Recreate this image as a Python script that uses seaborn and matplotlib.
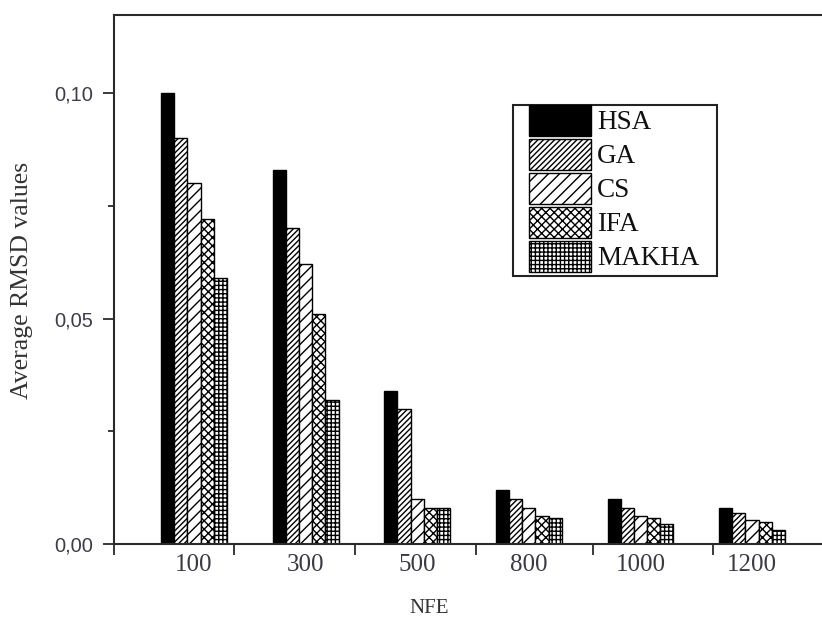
import numpy as np
import pandas as pd
import matplotlib
matplotlib.use("Agg")
import matplotlib.pyplot as plt
import matplotlib.patches as mpatches
from matplotlib.ticker import FixedLocator, FixedFormatter
import seaborn as sns

# Average RMSD per algorithm for each number of function evaluations
nfe = ["100", "300", "500", "800", "1000", "1200"]
algorithms = ["HSA", "GA", "CS", "IFA", "MAKHA"]
hsa = [0.100, 0.083, 0.034, 0.012, 0.010, 0.008]
ga = [0.090, 0.070, 0.030, 0.010, 0.008, 0.0069]
cs = [0.080, 0.062, 0.010, 0.008, 0.0062, 0.0053]
ifa = [0.072, 0.051, 0.008, 0.0062, 0.0058, 0.0048]
makha = [0.059, 0.032, 0.008, 0.0058, 0.0045, 0.0031]

y_ticks = [0.00, 0.05, 0.10]
y_ticklabels = ["0,00", "0,05", "0,10"]

series = {"HSA": hsa, "GA": ga, "CS": cs, "IFA": ifa, "MAKHA": makha}
df = pd.DataFrame(
    [(n, alg, v) for alg, vals in series.items() for n, v in zip(nfe, vals)],
    columns=["NFE", "Algorithm", "RMSD"],
)

sns.set_style("ticks")
plt.rcParams["hatch.linewidth"] = 1.0
plt.rcParams["font.family"] = ["Liberation Serif", "DejaVu Serif"]

faces = {"HSA": "black", "GA": "white", "CS": "white", "IFA": "white", "MAKHA": "white"}
hatches = {"HSA": "", "GA": "//////", "CS": "///", "IFA": "xxxx", "MAKHA": "++++"}

fig = plt.figure(figsize=(8.22, 6.18), dpi=100)
ax = fig.add_axes([0.1387, 0.1197, 0.8613, 0.856])

sns.barplot(
    data=df, x="NFE", y="RMSD", hue="Algorithm", order=nfe, hue_order=algorithms,
    palette=faces, width=0.59, edgecolor="black", linewidth=1.0,
    saturation=1, legend=False, ax=ax,
)

for alg, cont in zip(algorithms, ax.containers):
    for bar in cont:
        bar.set_hatch(hatches[alg])
        bar.set_edgecolor("black")

ax.set_xlim(-0.717, 5.627)
ax.set_ylim(0, 0.1173)

# spines
for side in ["left", "bottom", "top"]:
    ax.spines[side].set_visible(True)
    ax.spines[side].set_color("#2a2a2a")
    ax.spines[side].set_linewidth(1.5)
ax.spines["right"].set_visible(False)

# y ticks
ax.yaxis.set_major_locator(FixedLocator(y_ticks))
ax.yaxis.set_major_formatter(FixedFormatter(y_ticklabels))
ax.yaxis.set_minor_locator(FixedLocator([0.025, 0.075]))
ax.tick_params(axis="y", which="major", direction="out", length=8, width=1.3,
               color="#2a2a2a", pad=7, labelsize=14.5, labelcolor="#3c3c4c")
ax.tick_params(axis="y", which="minor", direction="out", length=4, width=1.3,
               color="#2a2a2a")
for lab in ax.get_yticklabels():
    lab.set_family(["Liberation Sans", "DejaVu Sans"])

# x ticks: labels under groups, short marks between groups
ax.xaxis.set_minor_locator(FixedLocator([-0.717, 0.358, 1.443, 2.527, 3.575, 4.651]))
ax.tick_params(axis="x", which="major", length=0, pad=7, labelsize=18,
               labelcolor="#3a3a44")
ax.tick_params(axis="x", which="minor", direction="out", length=8, width=1.3,
               color="#2a2a2a")
ax.tick_params(top=False, right=False, which="both")

ax.set_xlabel("NFE", fontsize=15, color="#333333")
ax.xaxis.set_label_coords(0.445, -0.104)
ax.set_ylabel("Average RMSD values", fontsize=18.5, color="#333333")
ax.yaxis.set_label_coords(-0.114, 0.499)

# legend: swatches and names, with a separately drawn box around them
legend_box = mpatches.Rectangle(
    (0.5636, 0.5066), 0.2881, 0.3233, transform=ax.transAxes,
    facecolor="white", edgecolor="#222222", linewidth=1.5, zorder=4,
)
ax.add_patch(legend_box)

handles = [
    mpatches.Patch(facecolor=faces[a], edgecolor="black", hatch=hatches[a],
                   linewidth=1.0, label=a)
    for a in algorithms
]
leg = ax.legend(
    handles=handles, loc="upper left", bbox_to_anchor=(0.5862, 0.8299),
    fontsize=19.5, frameon=False,
    handlelength=2.29, handleheight=1.38, labelspacing=0.11, borderpad=0,
    handletextpad=0.22, borderaxespad=0,
)
leg.set_zorder(5)
for t in leg.get_texts():
    t.set_color("#111111")

fig.savefig("out.png", dpi=100, facecolor="white")
